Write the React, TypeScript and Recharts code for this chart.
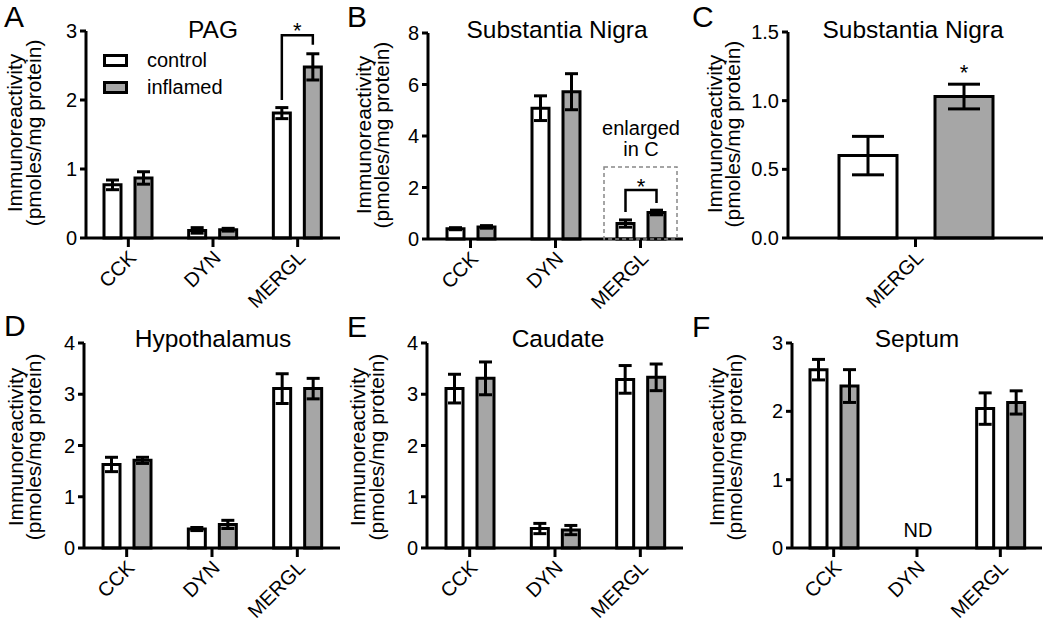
import React from 'react';
import { BarChart, Bar, XAxis, YAxis, ErrorBar, LabelList, Legend } from 'recharts';

const FONT = '"Liberation Sans", Arial, Helvetica, sans-serif';
const GRAY = '#a6a6a6';

// ---------- data ----------
const categories = ['CCK', 'DYN', 'MERGL'];
const seriesNames = ['control', 'inflamed'];

const pagControl = [0.77, 0.11, 1.81];
const pagControlSem = [0.07, 0.04, 0.08];
const pagInflamed = [0.87, 0.12, 2.48];
const pagInflamedSem = [0.09, 0.02, 0.19];

const snControl = [0.4, 5.08, 0.6];
const snControlSem = [0.04, 0.48, 0.14];
const snInflamed = [0.47, 5.72, 1.03];
const snInflamedSem = [0.05, 0.7, 0.09];

const snEnlCategories = ['MERGL'];
const snEnlControl = [0.6];
const snEnlControlSem = [0.14];
const snEnlInflamed = [1.03];
const snEnlInflamedSem = [0.09];

const hypControl = [1.63, 0.37, 3.11];
const hypControlSem = [0.14, 0.03, 0.29];
const hypInflamed = [1.71, 0.46, 3.11];
const hypInflamedSem = [0.06, 0.08, 0.2];

const cauControl = [3.11, 0.38, 3.29];
const cauControlSem = [0.28, 0.1, 0.27];
const cauInflamed = [3.31, 0.35, 3.33];
const cauInflamedSem = [0.32, 0.09, 0.26];

const sepControl = [2.61, null, 2.04];
const sepControlSem = [0.15, null, 0.23];
const sepInflamed = [2.37, null, 2.13];
const sepInflamedSem = [0.24, null, 0.17];

const ticksA = [0, 1, 2, 3];
const ticksB = [0, 2, 4, 6, 8];
const ticksC = [0, 0.5, 1.0, 1.5];
const ticksD = [0, 1, 2, 3, 4];
const ticksE = [0, 1, 2, 3, 4];
const ticksF = [0, 1, 2, 3];

const yLabelLines = ['Immunoreactivity', '(pmoles/mg protein)'];

function rows(cats: string[], c: any[], ce: any[], f: any[], fe: any[]) {
  return cats.map((name, i) => ({ name, c: c[i], ce: ce[i], f: f[i], fe: fe[i] }));
}

// ---------- ticks ----------
const RotTick = (props: any) => {
  const { x, y, payload } = props;
  const px = x + 9;
  const py = y + 10;
  return (
    <text x={px} y={py} transform={`rotate(-45 ${px} ${py})`} textAnchor="end" fontSize={20} fontFamily={FONT} fill="#000">
      {payload.value}
    </text>
  );
};

// ---------- annotations (brackets, stars, box) drawn from the bar geometry ----------
function makeAnnot(cfg: any) {
  return (props: any) => {
    const vb = props.viewBox && props.viewBox.width !== undefined ? props.viewBox : props;
    const { x, y, width, height } = vb;
    const value = Number(props.value);
    const a = cfg.annot;
    if (props.index !== undefined ? props.index !== a.index : value !== a.value) return null;
    if (!(value > 0)) return null;
    const h = Math.abs(height);
    const base = y + h;
    const ppu = h / value;
    const Y = (v: number) => base - v * ppu;
    const rc = x + width / 2;
    const lc = rc - (cfg.barSize + cfg.barGap);
    const items: any[] = [];
    if (a.bracket) {
      const b = a.bracket;
      items.push(
        <path key="br" d={`M${lc},${Y(b.left)} L${lc},${Y(b.top)} L${rc},${Y(b.top)} L${rc},${Y(b.right)}`} fill="none" stroke="#000" strokeWidth={2.5} />
      );
    }
    if (a.star !== undefined) {
      const sx = a.starOnBar ? rc : (lc + rc) / 2;
      items.push(
        <text key="st" x={sx} y={Y(a.star) + 12} textAnchor="middle" fontSize={22} fontFamily={FONT} fill="#000">*</text>
      );
    }
    if (a.box) {
      const bx1 = lc - 21.5;
      const bx2 = rc + 20.5;
      items.push(
        <rect key="bx" x={bx1} y={Y(a.box.top)} width={bx2 - bx1} height={base - Y(a.box.top)} fill="none" stroke="#888" strokeWidth={1.5} strokeDasharray="4 3" />
      );
      a.box.text.forEach((t: any, i: number) => {
        items.push(
          <text key={'bt' + i} x={(lc + rc) / 2} y={Y(t.v)} textAnchor="middle" fontSize={20} fontFamily={FONT} fill="#000">{t.s}</text>
        );
      });
    }
    return <g>{items}</g>;
  };
}

const LegendBox = () => (
  <div style={{ fontFamily: FONT, fontSize: 20, color: '#000' }}>
    {seriesNames.map((n, i) => (
      <div key={n} style={{ display: 'flex', alignItems: 'center', height: 27 }}>
        <div style={{ width: 19, height: 7, border: '3px solid #000', background: i === 0 ? '#fff' : GRAY }} />
        <span style={{ marginLeft: 19, lineHeight: '27px' }}>{n}</span>
      </div>
    ))}
  </div>
);

const panels: any[] = [
  {
    key: 'A', left: 0, top: 0, w: 345, h: 330, yw: 86, mr: 5, mt: 31, mb: 32,
    ymax: 3, ticks: ticksA, fmt: (v: number) => String(v), barSize: 17, barGap: 14, cap: 6.5,
    data: rows(categories, pagControl, pagControlSem, pagInflamed, pagInflamedSem),
    legend: true,
    annot: { index: 2, value: pagInflamed[2], bracket: { top: 2.94, left: 2.0, right: 2.8 }, star: 3.07 },
  },
  {
    key: 'B', left: 345, top: 0, w: 345, h: 330, yw: 83, mr: 7, mt: 33, mb: 31,
    ymax: 8, ticks: ticksB, fmt: (v: number) => String(v), barSize: 17, barGap: 14, cap: 6.5,
    data: rows(categories, snControl, snControlSem, snInflamed, snInflamedSem),
    annot: {
      index: 2, value: snInflamed[2], bracket: { top: 1.9, left: 1.05, right: 1.4 }, star: 2.2,
      box: { top: 2.8, text: [{ s: 'enlarged', v: 4.04 }, { s: 'in C', v: 3.22 }] },
    },
  },
  {
    key: 'C', left: 690, top: 0, w: 360, h: 330, yw: 98, mr: 7, mt: 32, mb: 32,
    ymax: 1.5, ticks: ticksC, fmt: (v: number) => v.toFixed(1), barSize: 58, barGap: 38, cap: 16,
    data: rows(snEnlCategories, snEnlControl, snEnlControlSem, snEnlInflamed, snEnlInflamedSem),
    annot: { index: 0, value: snEnlInflamed[0], star: 1.24, starOnBar: true },
  },
  {
    key: 'D', left: 0, top: 310, w: 345, h: 317, yw: 84, mr: 5, mt: 33, mb: 19,
    ymax: 4, ticks: ticksD, fmt: (v: number) => String(v), barSize: 17, barGap: 14, cap: 6.5,
    data: rows(categories, hypControl, hypControlSem, hypInflamed, hypInflamedSem),
  },
  {
    key: 'E', left: 345, top: 310, w: 345, h: 317, yw: 82, mr: 7, mt: 33, mb: 19,
    ymax: 4, ticks: ticksE, fmt: (v: number) => String(v), barSize: 17, barGap: 14, cap: 6.5,
    data: rows(categories, cauControl, cauControlSem, cauInflamed, cauInflamedSem),
  },
  {
    key: 'F', left: 690, top: 310, w: 360, h: 317, yw: 102, mr: 8, mt: 33, mb: 19,
    ymax: 3, ticks: ticksF, fmt: (v: number) => String(v), barSize: 17, barGap: 14, cap: 6.5,
    data: rows(categories, sepControl, sepControlSem, sepInflamed, sepInflamedSem),
  },
];

const overlayTexts = {
  letters: [
    { s: 'A', x: 4, y: 27 }, { s: 'B', x: 347, y: 27 }, { s: 'C', x: 692, y: 27 },
    { s: 'D', x: 4, y: 336 }, { s: 'E', x: 347, y: 337 }, { s: 'F', x: 692, y: 337 },
  ],
  titles: [
    { s: 'PAG', x: 213, y: 38 }, { s: 'Substantia Nigra', x: 557, y: 38 }, { s: 'Substantia Nigra', x: 913, y: 38 },
    { s: 'Hypothalamus', x: 213, y: 347 }, { s: 'Caudate', x: 558, y: 347 }, { s: 'Septum', x: 917, y: 347 },
  ],
  ylabels: [
    { x1: 22, x2: 41, cy: 133 }, { x1: 371, x2: 389, cy: 135 }, { x1: 722, x2: 740, cy: 134 },
    { x1: 23, x2: 41, cy: 447 }, { x1: 365, x2: 384, cy: 447 }, { x1: 724, x2: 742, cy: 447 },
  ],
};

function Panel({ cfg }: { cfg: any }) {
  const axisStyle = { stroke: '#000', strokeWidth: 3 };
  return (
    <div style={{ position: 'absolute', left: cfg.left, top: cfg.top }}>
      <BarChart
        width={cfg.w}
        height={cfg.h}
        data={cfg.data}
        margin={{ top: cfg.mt, right: cfg.mr, bottom: cfg.mb, left: 0 }}
        barSize={cfg.barSize}
        barGap={cfg.barGap}
      >
        <XAxis dataKey="name" height={60} interval={0} tick={<RotTick />} tickSize={9} tickMargin={2} tickLine={axisStyle} axisLine={axisStyle} />
        <YAxis
          width={cfg.yw}
          domain={[0, cfg.ymax]}
          ticks={cfg.ticks}
          interval={0}
          tickSize={6}
          tickMargin={3}
          tickFormatter={cfg.fmt}
          tick={{ fill: '#000', fontSize: 20, fontFamily: FONT }}
          tickLine={axisStyle}
          axisLine={axisStyle}
        />
        <Bar dataKey="c" name={seriesNames[0]} fill="#fff" stroke="#000" strokeWidth={3} isAnimationActive={false}>
          <ErrorBar dataKey="ce" width={cfg.cap} stroke="#000" strokeWidth={3} isAnimationActive={false} />
        </Bar>
        <Bar dataKey="f" name={seriesNames[1]} fill={GRAY} stroke="#000" strokeWidth={3} isAnimationActive={false}>
          <ErrorBar dataKey="fe" width={cfg.cap} stroke="#000" strokeWidth={3} isAnimationActive={false} />
          {cfg.annot ? <LabelList dataKey="f" content={makeAnnot(cfg)} /> : null}
        </Bar>
        {cfg.legend ? (
          <Legend
            layout="horizontal"
            verticalAlign="middle"
            align="center"
            content={<LegendBox />}
            wrapperStyle={{ position: 'absolute', left: 103, top: 47, width: 'auto', height: 'auto' }}
          />
        ) : null}
      </BarChart>
    </div>
  );
}

export default function App() {
  return (
    <div style={{ position: 'absolute', left: 0, top: 0, width: 1050, height: 627, background: '#fff', fontFamily: FONT }}>
      {panels.map((p) => (
        <Panel key={p.key} cfg={p} />
      ))}
      <svg width={1050} height={627} style={{ position: 'absolute', left: 0, top: 0, pointerEvents: 'none' }}>
        {overlayTexts.letters.map((t) => (
          <text key={t.s} x={t.x} y={t.y} fontSize={30} fontFamily={FONT} fill="#000">{t.s}</text>
        ))}
        {overlayTexts.titles.map((t, i) => (
          <text key={'t' + i} x={t.x} y={t.y} textAnchor="middle" fontSize={24.5} fontFamily={FONT} fill="#000">{t.s}</text>
        ))}
        {overlayTexts.ylabels.map((l, i) => (
          <g key={'y' + i}>
            <text x={l.x1} y={l.cy} transform={`rotate(-90 ${l.x1} ${l.cy})`} textAnchor="middle" fontSize={21} fontFamily={FONT} fill="#000">{yLabelLines[0]}</text>
            <text x={l.x2} y={l.cy} transform={`rotate(-90 ${l.x2} ${l.cy})`} textAnchor="middle" fontSize={21} fontFamily={FONT} fill="#000">{yLabelLines[1]}</text>
          </g>
        ))}
        <text x={918} y={537} textAnchor="middle" fontSize={20} fontFamily={FONT} fill="#000">ND</text>
      </svg>
    </div>
  );
}
